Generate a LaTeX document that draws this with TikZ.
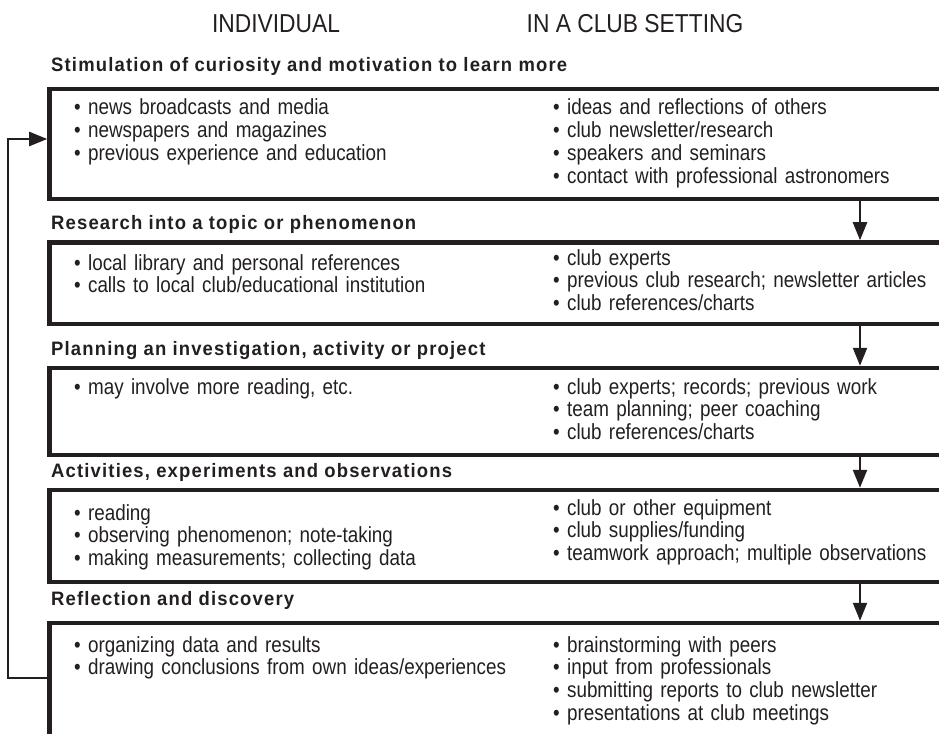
\documentclass[tikz,border=0pt]{standalone}
\usepackage{fontspec}
\setmainfont{Liberation Sans}
\newfontfamily\itemfont{Liberation Sans}[FakeStretch=0.86,WordSpace=0.8]
\newfontfamily\headfont{Liberation Sans}[FakeStretch=0.95,LetterSpace=6]
\newfontfamily\titlefont{Liberation Sans}[FakeStretch=0.88]
\usetikzlibrary{arrows.meta}
\definecolor{ink}{RGB}{35,31,32}

\begin{document}
\begin{tikzpicture}[x=1bp, y=-1bp, color=ink,
    >={Triangle[width=14bp,length=18bp]},
    stage/.style={rectangle, draw, line width=4.5bp, inner sep=0pt,
                  minimum width=905bp},
    flow/.style={->, line width=2.3bp},
    head/.style={anchor=base west, inner sep=0pt,
                 font=\headfont\bfseries\fontsize{19.5}{21}\selectfont},
    items/.style={anchor=base west, inner sep=0pt, text width=480bp,
                  align=left, font=\itemfont\fontsize{22}{23}\selectfont},
    title/.style={anchor=base, inner sep=0pt,
                  font=\titlefont\fontsize{26}{28}\selectfont}]

\clip (0,0) rectangle (939,734);

\node[title] (ind)  at (276,33) {INDIVIDUAL};
\node[title] (club) at (635,33) {IN A CLUB SETTING};

\draw
    (502,144)    node[stage, minimum height=110bp](b1) {}
    (502,283.25) node[stage, minimum height=81.5bp](b2) {}
    (502,411.5)  node[stage, minimum height=87bp](b3) {}
    (502,536)    node[stage, minimum height=92bp](b4) {}
    (502,698)    node[stage, minimum height=150bp](b5) {}
    ;

\node[head] (h1) at (51,72)  {Stimulation of curiosity and motivation to learn more};
\node[head] (h2) at (51,229) {Research into a topic or phenomenon};
\node[head] (h3) at (51,355) {Planning an investigation, activity or project};
\node[head] (h4) at (51,477) {Activities, experiments and observations};
\node[head] (h5) at (51,605) {Reflection and discovery};

\node[items] (i1) at (74,115) {\textbullet\ news broadcasts and media\\
    \textbullet\ newspapers and magazines\\
    \textbullet\ previous experience and education};
\node[items] (c1) at (553,115) {\textbullet\ ideas and reflections of others\\
    \textbullet\ club newsletter/research\\
    \textbullet\ speakers and seminars\\
    \textbullet\ contact with professional astronomers};

\node[items] (i2) at (74,270) {\textbullet\ local library and personal references\\
    \textbullet\ calls to local club/educational institution};
\node[items] (c2) at (553,265) {\textbullet\ club experts\\
    \textbullet\ previous club research; newsletter articles\\
    \textbullet\ club references/charts};

\node[items] (i3) at (74,394) {\textbullet\ may involve more reading, etc.};
\node[items] (c3) at (553,394) {\textbullet\ club experts; records; previous work\\
    \textbullet\ team planning; peer coaching\\
    \textbullet\ club references/charts};

\node[items] (i4) at (74,520) {\textbullet\ reading\\
    \textbullet\ observing phenomenon; note-taking\\
    \textbullet\ making measurements; collecting data};
\node[items] (c4) at (553,515) {\textbullet\ club or other equipment\\
    \textbullet\ club supplies/funding\\
    \textbullet\ teamwork approach; multiple observations};

\node[items] (i5) at (74,652) {\textbullet\ organizing data and results\\
    \textbullet\ drawing conclusions from own ideas/experiences};
\node[items] (c5) at (553,652) {\textbullet\ brainstorming with peers\\
    \textbullet\ input from professionals\\
    \textbullet\ submitting reports to club newsletter\\
    \textbullet\ presentations at club meetings};

\coordinate (ax) at (860,0);
\draw[flow] (b1.south -| ax) -- (b2.north -| ax);
\draw[flow] (b2.south -| ax) -- (b3.north -| ax);
\draw[flow] (b3.south -| ax) -- (b4.north -| ax);
\draw[flow] (b4.south -| ax) -- (b5.north -| ax);

\draw[flow] ([yshift=20bp]b5.west) -- ++(-39.25,0) |- ([yshift=5bp]b1.west);

\end{tikzpicture}
\end{document}
